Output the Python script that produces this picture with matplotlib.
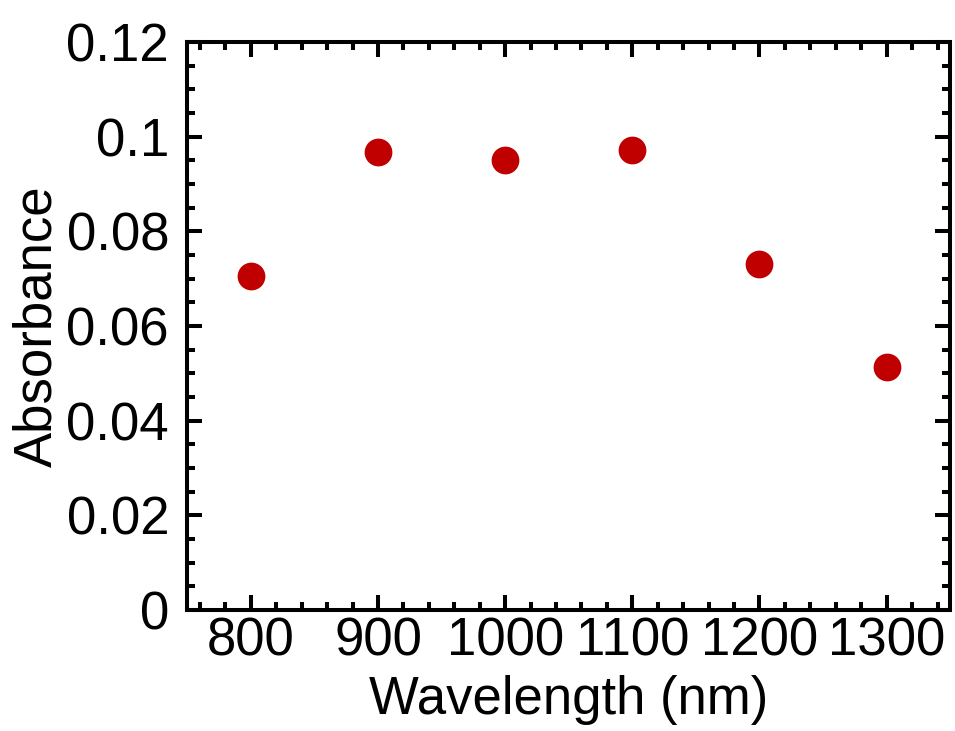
import matplotlib.pyplot as plt
from matplotlib.ticker import MultipleLocator

# wavelength (nm) vs absorbance
wavelength = [800, 900, 1000, 1100, 1200, 1300]
absorbance = [0.0706, 0.0968, 0.0951, 0.0972, 0.0731, 0.0513]

plt.rcParams['font.family'] = ['Liberation Sans', 'DejaVu Sans']

fig = plt.figure(figsize=(9.55, 7.31), dpi=100)
ax = fig.add_axes([0.196, 0.1655, 0.799, 0.777])

ax.plot(wavelength, absorbance, 'o', color='#C00000', markersize=20, markeredgewidth=0)

ax.set_xlim(750, 1350)
ax.set_ylim(0, 0.12)
ax.xaxis.set_major_locator(MultipleLocator(100))
ax.xaxis.set_minor_locator(MultipleLocator(20))
ax.yaxis.set_major_locator(MultipleLocator(0.02))
ax.yaxis.set_minor_locator(MultipleLocator(0.005))
ax.yaxis.set_major_formatter(plt.FuncFormatter(lambda v, p: f"{v:g}"))

for s in ax.spines.values():
    s.set_linewidth(2.9)
ax.tick_params(which='both', direction='in', top=True, right=True, width=2.9, labelsize=38)
ax.tick_params(which='major', length=11)
ax.tick_params(which='minor', length=6)
ax.tick_params(axis='x', which='major', pad=5)
ax.tick_params(axis='y', which='major', pad=13)

ax.set_xlabel("Wavelength (nm)", fontsize=38, labelpad=6)
ax.set_ylabel("Absorbance", fontsize=38, labelpad=3)

fig.savefig("out.png", dpi=100)
